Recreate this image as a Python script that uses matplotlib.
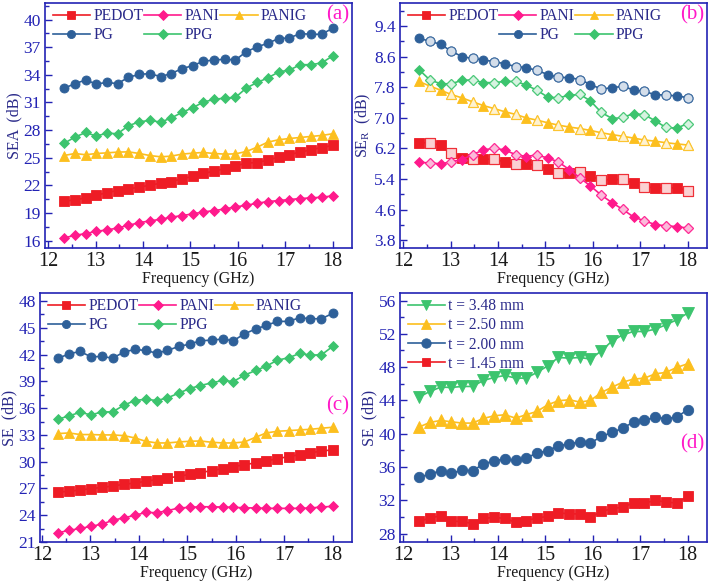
import matplotlib
matplotlib.use("Agg")
import matplotlib.pyplot as plt
from matplotlib.ticker import MultipleLocator, FixedLocator
from matplotlib.lines import Line2D

plt.rcParams['font.family'] = ['Liberation Serif', 'DejaVu Serif']
plt.rcParams['mathtext.fontset'] = 'custom'
plt.rcParams['mathtext.rm'] = 'Liberation Serif'

freq = [12.33, 12.56, 12.79, 13.01, 13.24, 13.46, 13.69, 13.92, 14.14, 14.37,
        14.59, 14.82, 15.05, 15.27, 15.50, 15.73, 15.95, 16.18, 16.41, 16.63,
        16.86, 17.09, 17.32, 17.54, 17.77, 18.00]

# (a) SE_A
sea_pedot = [20.28, 20.42, 20.64, 20.93, 21.22, 21.44, 21.62, 21.80, 22.02, 22.23,
             22.41, 22.70, 22.99, 23.29, 23.54, 23.83, 24.12, 24.41, 24.48, 24.74,
             25.06, 25.35, 25.61, 25.86, 26.11, 26.33]
sea_pani = [16.29, 16.58, 16.76, 17.01, 17.16, 17.37, 17.66, 17.95, 18.14, 18.32,
            18.54, 18.72, 18.90, 19.12, 19.26, 19.44, 19.66, 19.84, 20.06, 20.24,
            20.35, 20.46, 20.57, 20.64, 20.71, 20.86]
sea_panig = [25.24, 25.46, 25.32, 25.46, 25.53, 25.61, 25.64, 25.46, 25.24, 25.10,
             25.17, 25.39, 25.50, 25.57, 25.46, 25.39, 25.42, 25.68, 26.15, 26.69,
             26.95, 27.09, 27.20, 27.31, 27.42, 27.60]
sea_pg = [32.53, 33.04, 33.44, 33.00, 33.18, 33.04, 33.73, 34.05, 34.13, 33.80,
          34.13, 34.67, 35.00, 35.47, 35.61, 35.69, 35.61, 36.52, 37.03, 37.43,
          37.93, 38.01, 38.48, 38.40, 38.40, 39.06]
sea_ppg = [26.55, 27.24, 27.74, 27.35, 27.67, 27.60, 28.47, 28.90, 29.05, 28.87,
           29.30, 29.92, 30.43, 31.04, 31.33, 31.48, 31.55, 32.57, 33.18, 33.65,
           34.31, 34.52, 35.10, 35.10, 35.29, 36.05]

# (b) SE_R
ser_pedot = [6.35, 6.35, 6.28, 6.08, 5.95, 5.92, 5.92, 5.92, 5.85, 5.79,
             5.79, 5.76, 5.66, 5.56, 5.56, 5.58, 5.47, 5.38, 5.39, 5.39,
             5.30, 5.20, 5.17, 5.17, 5.17, 5.10]
ser_pani = [5.84, 5.82, 5.80, 5.85, 5.91, 6.04, 6.16, 6.21, 6.16, 6.04,
            5.99, 6.03, 5.95, 5.85, 5.65, 5.43, 5.22, 4.98, 4.78, 4.61,
            4.41, 4.31, 4.21, 4.18, 4.16, 4.12]
ser_panig = [7.95, 7.83, 7.72, 7.61, 7.52, 7.42, 7.32, 7.24, 7.16, 7.09,
             7.00, 6.94, 6.87, 6.81, 6.76, 6.72, 6.67, 6.61, 6.56, 6.52,
             6.47, 6.42, 6.39, 6.35, 6.32, 6.29]
ser_pg = [9.08, 9.00, 8.92, 8.74, 8.60, 8.55, 8.51, 8.47, 8.41, 8.34,
          8.31, 8.24, 8.13, 8.06, 8.05, 8.00, 7.87, 7.75, 7.79, 7.82,
          7.73, 7.69, 7.60, 7.60, 7.57, 7.53]
ser_ppg = [8.26, 7.99, 7.89, 7.89, 7.98, 7.99, 7.92, 7.92, 7.95, 7.95,
           7.86, 7.72, 7.54, 7.52, 7.59, 7.61, 7.44, 7.14, 6.98, 7.01,
           7.11, 7.08, 6.92, 6.75, 6.73, 6.85]

# (c) SE total
se_pedot = [26.60, 26.68, 26.83, 26.98, 27.12, 27.27, 27.46, 27.61, 27.80, 27.99,
            28.17, 28.36, 28.58, 28.77, 29.00, 29.22, 29.44, 29.67, 29.86, 30.08,
            30.34, 30.57, 30.79, 31.02, 31.17, 31.35]
se_pani = [22.04, 22.30, 22.52, 22.75, 23.01, 23.42, 23.72, 23.98, 24.32, 24.28,
           24.51, 24.81, 24.88, 24.95, 24.95, 24.92, 24.88, 24.84, 24.81, 24.77,
           24.77, 24.77, 24.77, 24.81, 24.92, 25.00]
se_panig = [33.15, 33.22, 33.04, 33.04, 33.00, 33.00, 32.92, 32.66, 32.29, 32.10,
            32.10, 32.21, 32.29, 32.32, 32.18, 32.10, 32.10, 32.21, 32.74, 33.22,
            33.41, 33.48, 33.56, 33.63, 33.75, 33.86]
se_pg = [41.57, 42.09, 42.35, 41.75, 41.79, 41.60, 42.28, 42.58, 42.46, 42.16,
         42.46, 42.91, 43.17, 43.55, 43.62, 43.74, 43.55, 44.33, 44.86, 45.27,
         45.72, 45.72, 46.13, 46.02, 46.02, 46.62]
se_ppg = [34.76, 35.13, 35.54, 35.24, 35.58, 35.58, 36.33, 36.85, 37.00, 36.85,
          37.15, 37.67, 38.20, 38.53, 38.83, 39.10, 38.98, 39.69, 40.22, 40.70,
          41.38, 41.64, 42.13, 41.94, 41.98, 42.91]

# (d) SE vs thickness
se_t145 = [29.48, 29.88, 30.16, 29.48, 29.48, 29.20, 29.84, 29.96, 29.84, 29.36,
           29.56, 29.88, 30.08, 30.48, 30.40, 30.36, 29.96, 30.68, 31.00, 31.20,
           31.68, 31.68, 32.00, 31.80, 31.68, 32.48]
se_t200 = [34.76, 35.16, 35.56, 35.28, 35.60, 35.56, 36.36, 36.76, 36.96, 36.80,
           37.08, 37.68, 37.96, 38.56, 38.76, 39.04, 38.88, 39.68, 40.16, 40.68,
           41.40, 41.60, 42.00, 41.80, 42.00, 42.88]
se_t250 = [40.80, 41.36, 41.60, 41.44, 41.28, 41.28, 41.84, 42.16, 42.28, 41.88,
           42.28, 42.68, 43.48, 43.96, 44.08, 43.80, 44.00, 44.96, 45.60, 46.20,
           46.56, 46.68, 47.20, 47.36, 47.96, 48.40]
se_t348 = [44.40, 45.08, 45.60, 45.56, 45.68, 45.68, 46.40, 46.76, 47.00, 46.68,
           46.68, 47.36, 48.16, 49.16, 49.08, 49.16, 48.96, 49.96, 51.16, 51.88,
           52.28, 52.28, 52.56, 53.08, 53.68, 54.48]

samples = ['PEDOT', 'PANI', 'PANIG', 'PG', 'PPG']
thick_labels = ['t = 3.48 mm', 't = 2.50 mm', 't = 2.00 mm', 't = 1.45 mm']

yticks_a = [16, 19, 22, 25, 28, 31, 34, 37, 40]
yticks_b = [3.8, 4.6, 5.4, 6.2, 7.0, 7.8, 8.6, 9.4]
yticks_c = [21, 24, 27, 30, 33, 36, 39, 42, 45, 48]
yticks_d = [28, 32, 36, 40, 44, 48, 52, 56]

RED = '#ee1c25'
PINK = '#ff1a8c'
GOLD = '#fcbf1e'
BLUE = '#2e6099'
GREEN = '#3cc46e'
AXC = '#2323b4'
LBL = '#2a2a8a'
MAG = '#ff19c8'

styles = {
    'PEDOT': (RED, 's', 6.5),
    'PANI': (PINK, 'D', 5.5),
    'PANIG': (GOLD, '^', 7),
    'PG': (BLUE, 'o', 6.5),
    'PPG': (GREEN, 'D', 5.5),
}

fig = plt.figure(figsize=(7.09, 5.83), dpi=100)
ax_a = fig.add_axes([0.0635, 0.5746, 0.433, 0.4203])
ax_b = fig.add_axes([0.5642, 0.5746, 0.433, 0.4203])
ax_c = fig.add_axes([0.0564, 0.0703, 0.4401, 0.4271])
ax_d = fig.add_axes([0.5642, 0.0703, 0.433, 0.4271])


def style_axis(ax, ylim, yticks, ylabel, yfmt):
    ax.set_xlim(11.93, 18.41)
    ax.set_ylim(*ylim)
    ax.xaxis.set_major_locator(MultipleLocator(1))
    ax.xaxis.set_minor_locator(MultipleLocator(0.5))
    step = yticks[1] - yticks[0]
    ax.yaxis.set_major_locator(FixedLocator(yticks))
    minors = [t + step / 2 for t in yticks]
    ax.yaxis.set_minor_locator(FixedLocator(minors))
    ax.yaxis.set_major_formatter(yfmt)
    ax.tick_params(which='both', direction='in', color=AXC, labelcolor=AXC,
                   width=1.0)
    ax.tick_params(which='major', length=5)
    ax.tick_params(which='minor', length=3)
    ax.tick_params(axis='y', labelsize=12.5, pad=3)
    ax.tick_params(axis='x', labelcolor='#1a1a1a', labelsize=14.5, pad=3)
    for sp in ax.spines.values():
        sp.set_color(AXC)
        sp.set_linewidth(1.2)
    ax.set_xlabel('Frequency (GHz)', fontsize=11.5, color='#1a1a1a', labelpad=0)
    ax.set_ylabel(ylabel, fontsize=11.5, color=LBL, labelpad=1)


def plot_samples(ax, series, hollow=False):
    handles = {}
    for name, vals in zip(samples, series):
        c, m, ms = styles[name]
        ln, = ax.plot(freq, vals, color=c, marker=m, markersize=ms, lw=1.2,
                      markeredgewidth=0.6)
        if hollow:
            ax.plot(freq[1::2], vals[1::2], ls='none', marker=m, markersize=ms,
                    markerfacecolor='#fbe3ef' if name == 'PANI' else 'white',
                    markeredgecolor=c, markeredgewidth=0.9, alpha=0.8)
        handles[name] = ln
    return handles


leg_kw = dict(loc='upper left', bbox_to_anchor=(0.0, 1.01), frameon=False,
              fontsize=11.2, labelcolor=LBL, handlelength=2.4, handletextpad=0.2,
              columnspacing=0.05, labelspacing=0.2, borderaxespad=0.1,
              markerscale=0.9)

# (a)
h = plot_samples(ax_a, [sea_pedot, sea_pani, sea_panig, sea_pg, sea_ppg])
style_axis(ax_a, (15.2, 41.8), yticks_a, 'SEA  (dB)', '{x:.0f}')
ax_a.legend([h['PEDOT'], h['PG'], h['PANI'], h['PPG'], h['PANIG']],
            ['PEDOT', 'PG', 'PANI', 'PPG', 'PANIG'], ncol=3, **leg_kw)
ax_a.text(0.99, 0.99, '(a)', transform=ax_a.transAxes, ha='right', va='top',
          color=MAG, fontsize=15)

# (b)
h = plot_samples(ax_b, [ser_pedot, ser_pani, ser_panig, ser_pg, ser_ppg], hollow=True)
style_axis(ax_b, (3.6, 10.0), yticks_b, 'SE$_\\mathregular{R}$  (dB)', '{x:.1f}')
blank = Line2D([], [], color='none')
ax_b.legend([h['PEDOT'], blank, h['PANI'], h['PG'], h['PANIG'], h['PPG']],
            ['PEDOT', '', 'PANI', 'PG', 'PANIG', 'PPG'], ncol=3, **leg_kw)
ax_b.text(0.99, 0.99, '(b)', transform=ax_b.transAxes, ha='right', va='top',
          color=MAG, fontsize=15)

# (c)
h = plot_samples(ax_c, [se_pedot, se_pani, se_panig, se_pg, se_ppg])
style_axis(ax_c, (21, 48.9), yticks_c, 'SE  (dB)', '{x:.0f}')
ax_c.set_xlim(11.96, 18.40)
ax_c.legend([h['PEDOT'], h['PG'], h['PANI'], h['PPG'], h['PANIG']],
            ['PEDOT', 'PG', 'PANI', 'PPG', 'PANIG'], ncol=3, **leg_kw)
ax_c.text(0.99, 0.545, '(c)', transform=ax_c.transAxes, ha='right', va='center',
          color=MAG, fontsize=15)

# (d)
t_series = [se_t348, se_t250, se_t200, se_t145]
t_styles = [(GREEN, 'v', 8), (GOLD, '^', 8), (BLUE, 'o', 7.5), (RED, 's', 7)]
for vals, lab, (c, m, ms) in zip(t_series, thick_labels, t_styles):
    ax_d.plot(freq, vals, color=c, marker=m, markersize=ms, lw=1.2,
              markeredgewidth=0.6, label=lab)
style_axis(ax_d, (27.0, 56.9), yticks_d, 'SE  (dB)', '{x:.0f}')
ax_d.legend(**leg_kw)
ax_d.text(0.99, 0.395, '(d)', transform=ax_d.transAxes, ha='right', va='center',
          color=MAG, fontsize=15)

fig.savefig('out.png', dpi=100)
